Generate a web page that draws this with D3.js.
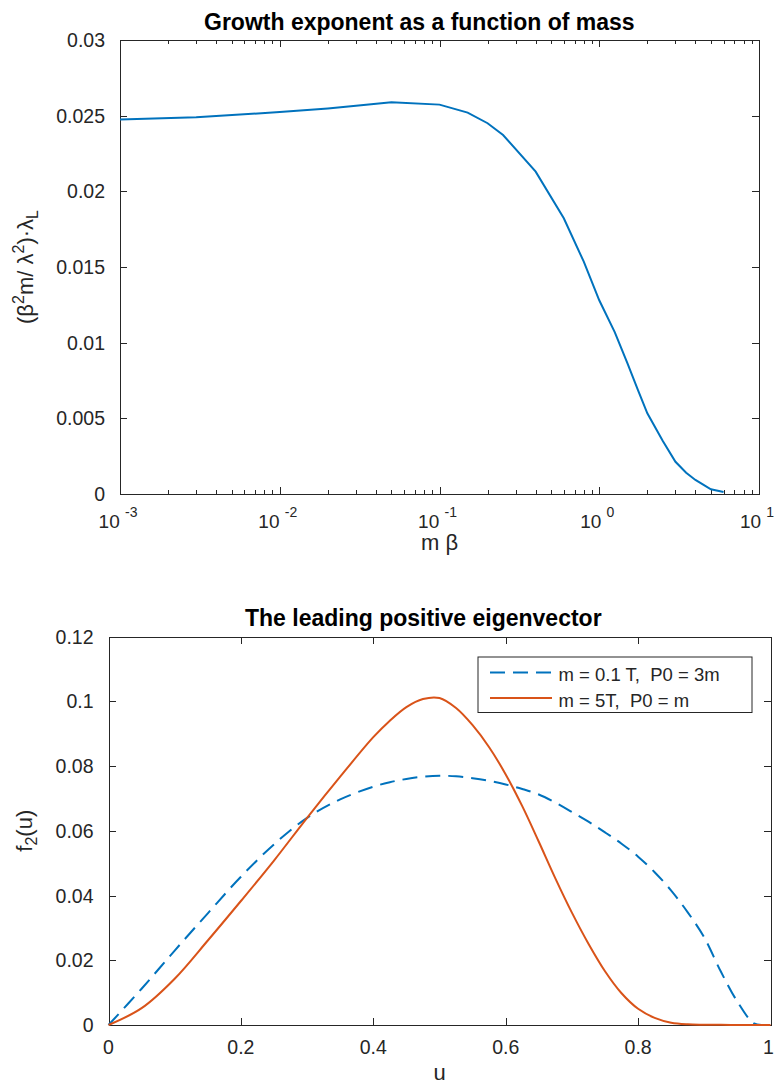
<!DOCTYPE html>
<html>
<head>
<meta charset="utf-8">
<script src="https://cdn.jsdelivr.net/npm/d3@7"></script>
<style>
body { margin: 0; background: #fff; }
text { font-family: "Liberation Sans", Arial, Helvetica, sans-serif; fill: #262626; }
.axis path, .axis line { stroke: #262626; stroke-width: 1; shape-rendering: crispEdges; }
</style>
</head>
<body>
<script>
// growth exponent vs mass (top panel)
var massValues = [0.001, 0.003, 0.01, 0.02, 0.03, 0.05, 0.1, 0.15, 0.2, 0.25, 0.4, 0.6, 0.8,
                  1.0, 1.25, 1.5, 1.75, 2, 2.5, 3, 3.5, 4, 4.5, 5, 6];
var growthValues = [0.02474, 0.02489, 0.02524, 0.02548, 0.02566, 0.02588, 0.02573, 0.0252, 0.0245,
                    0.02372, 0.0213, 0.01822, 0.01535, 0.0128, 0.0107, 0.00864, 0.00685, 0.00533,
                    0.0035, 0.00213, 0.0014, 0.00093, 0.0006, 0.00031, 0.00013];

// eigenvectors (bottom panel)
var uValues = [0, 0.05, 0.1, 0.15, 0.2, 0.25, 0.3, 0.35, 0.4, 0.425, 0.45, 0.475, 0.5, 0.525, 0.55,
               0.575, 0.6, 0.625, 0.65, 0.675, 0.7, 0.725, 0.75, 0.775, 0.8, 0.825, 0.85, 0.875,
               0.9, 0.925, 0.95, 0.975, 0.99, 1];
var eigenLight = [0, 0.0112, 0.023, 0.0345, 0.0458, 0.0558, 0.064, 0.0697, 0.0736, 0.075, 0.076,
                  0.0767, 0.077, 0.0768, 0.0762, 0.0754, 0.0743, 0.0729, 0.0712, 0.0687, 0.0658,
                  0.0628, 0.0595, 0.056, 0.052, 0.0472, 0.0415, 0.0348, 0.027, 0.0165, 0.0072,
                  0.0005, 0, 0];
var eigenHeavy = [0, 0.0052, 0.0143, 0.0261, 0.0383, 0.0508, 0.064, 0.0767, 0.0889, 0.094, 0.0982,
                  0.1007, 0.101, 0.0979, 0.0926, 0.0858, 0.0774, 0.0676, 0.0566, 0.0453, 0.0347,
                  0.0251, 0.0166, 0.0098, 0.005, 0.0022, 0.0007, 0.0002, 0.0001, 0.00005, 0, 0,
                  0, 0];
var legendLabels = ["m = 0.1 T,  P0 = 3m", "m = 5T,  P0 = m"];

// ticks
var massTicks = [1e-3, 1e-2, 1e-1, 1, 10];
var massExponents = ["-3", "-2", "-1", "0", "1"];
var growthTicks = [0, 0.005, 0.01, 0.015, 0.02, 0.025, 0.03];
var uTicks = [0, 0.2, 0.4, 0.6, 0.8, 1];
var eigenTicks = [0, 0.02, 0.04, 0.06, 0.08, 0.1, 0.12];

var blue = "#0072BD", orange = "#D95319";

var svg = d3.select("body").append("svg")
    .attr("width", 774)
    .attr("height", 1084);

//---------- top panel ----------
var top1 = { left: 120, top: 40, width: 639, height: 454 };
var g1 = svg.append("g").attr("transform", "translate(" + top1.left + "," + top1.top + ")");

var x1 = d3.scaleLog().domain([1e-3, 10]).range([0, top1.width]);
var y1 = d3.scaleLinear().domain([0, 0.03]).range([top1.height, 0]);

// minor ticks of the log axis
var minorTicks = [];
[1e-3, 1e-2, 1e-1, 1].forEach(function (d) {
    for (var k = 2; k <= 9; k++) minorTicks.push(d * k);
});

g1.append("g").attr("class", "axis")
    .attr("transform", "translate(0," + top1.height + ")")
    .call(d3.axisBottom(x1).tickValues(minorTicks).tickSize(-4).tickSizeOuter(0).tickFormat(""));
g1.append("g").attr("class", "axis")
    .call(d3.axisTop(x1).tickValues(minorTicks).tickSize(-4).tickSizeOuter(0).tickFormat(""));
g1.append("g").attr("class", "axis")
    .attr("transform", "translate(0," + top1.height + ")")
    .call(d3.axisBottom(x1).tickValues(massTicks).tickSize(-7).tickSizeOuter(0).tickFormat(""));
g1.append("g").attr("class", "axis")
    .call(d3.axisTop(x1).tickValues(massTicks).tickSize(-7).tickSizeOuter(0).tickFormat(""));
g1.append("g").attr("class", "axis")
    .call(d3.axisLeft(y1).tickValues(growthTicks).tickSize(-7).tickSizeOuter(0).tickFormat(""));
g1.append("g").attr("class", "axis")
    .attr("transform", "translate(" + top1.width + ",0)")
    .call(d3.axisRight(y1).tickValues(growthTicks).tickSize(-7).tickSizeOuter(0).tickFormat(""));

// x tick labels 10^k
massTicks.forEach(function (d, i) {
    var t = g1.append("text")
        .attr("x", x1(d) - 2)
        .attr("y", top1.height + 34)
        .attr("text-anchor", "middle")
        .style("font-size", "19px");
    t.append("tspan").text("10 ");
    t.append("tspan").attr("dy", -11).style("font-size", "14px").text(massExponents[i]);
});

// y tick labels
g1.selectAll(".ylab").data(growthTicks).enter().append("text")
    .attr("x", -15)
    .attr("y", function (d) { return y1(d); })
    .attr("dy", "0.36em")
    .attr("text-anchor", "end")
    .style("font-size", "19.5px")
    .text(function (d) { return d3.format("")(d); });

var line1 = d3.line()
    .x(function (d, i) { return x1(massValues[i]); })
    .y(function (d) { return y1(d); });

g1.append("path")
    .datum(growthValues)
    .attr("d", line1)
    .attr("fill", "none")
    .attr("stroke", blue)
    .attr("stroke-width", 2);

svg.append("text")
    .attr("x", 204).attr("y", 29.5)
    .style("font-size", "23px").style("font-weight", "bold").style("fill", "#000")
    .text("Growth exponent as a function of mass");

svg.append("text")
    .attr("x", top1.left + top1.width / 2).attr("y", 550)
    .attr("text-anchor", "middle")
    .style("font-size", "22px")
    .text("m β");

var yl1 = svg.append("text")
    .attr("transform", "translate(33," + (top1.top + top1.height / 2) + ") rotate(-90)")
    .attr("text-anchor", "middle")
    .style("font-size", "22px");
yl1.append("tspan").text("(β");
yl1.append("tspan").attr("dy", -9).style("font-size", "16px").text("2");
yl1.append("tspan").attr("dy", 9).text("m/ λ");
yl1.append("tspan").attr("dy", -9).style("font-size", "16px").text("2");
yl1.append("tspan").attr("dy", 9).text(")·λ");
yl1.append("tspan").attr("dy", 5).style("font-size", "16px").text("L");

//---------- bottom panel ----------
var bot = { left: 108.5, top: 636.5, width: 662, height: 388.5 };
var g2 = svg.append("g").attr("transform", "translate(" + bot.left + "," + bot.top + ")");

var x2 = d3.scaleLinear().domain([0, 1]).range([0, bot.width]);
var y2 = d3.scaleLinear().domain([0, 0.12]).range([bot.height, 0]);

g2.append("g").attr("class", "axis")
    .attr("transform", "translate(0," + bot.height + ")")
    .call(d3.axisBottom(x2).tickValues(uTicks).tickSize(-7).tickSizeOuter(0).tickFormat(""));
g2.append("g").attr("class", "axis")
    .call(d3.axisTop(x2).tickValues(uTicks).tickSize(-7).tickSizeOuter(0).tickFormat(""));
g2.append("g").attr("class", "axis")
    .call(d3.axisLeft(y2).tickValues(eigenTicks).tickSize(-7).tickSizeOuter(0).tickFormat(""));
g2.append("g").attr("class", "axis")
    .attr("transform", "translate(" + bot.width + ",0)")
    .call(d3.axisRight(y2).tickValues(eigenTicks).tickSize(-7).tickSizeOuter(0).tickFormat(""));

g2.selectAll(".xlab").data(uTicks).enter().append("text")
    .attr("x", function (d) { return Math.min(x2(d), bot.width - 2); })
    .attr("y", bot.height + 28.5)
    .attr("text-anchor", "middle")
    .style("font-size", "19.5px")
    .text(function (d) { return d3.format("")(d); });

g2.selectAll(".ylab").data(eigenTicks).enter().append("text")
    .attr("x", -15)
    .attr("y", function (d) { return y2(d); })
    .attr("dy", "0.36em")
    .attr("text-anchor", "end")
    .style("font-size", "19.5px")
    .text(function (d) { return d3.format("")(d); });

var line2 = d3.line()
    .x(function (d, i) { return x2(uValues[i]); })
    .y(function (d) { return y2(d); })
    .curve(d3.curveCatmullRom.alpha(0.5));

g2.append("path")
    .datum(eigenLight)
    .attr("d", line2)
    .attr("fill", "none")
    .attr("stroke", blue)
    .attr("stroke-width", 2)
    .attr("stroke-dasharray", "15,8");

g2.append("path")
    .datum(eigenHeavy)
    .attr("d", line2)
    .attr("fill", "none")
    .attr("stroke", orange)
    .attr("stroke-width", 2);

svg.append("text")
    .attr("x", 245).attr("y", 626)
    .style("font-size", "23px").style("font-weight", "bold").style("fill", "#000")
    .text("The leading positive eigenvector");

svg.append("text")
    .attr("x", bot.left + bot.width / 2).attr("y", 1080)
    .attr("text-anchor", "middle")
    .style("font-size", "22px")
    .text("u");

var yl2 = svg.append("text")
    .attr("transform", "translate(32," + (bot.top + bot.height / 2) + ") rotate(-90)")
    .attr("text-anchor", "middle")
    .style("font-size", "22px");
yl2.append("tspan").text("f");
yl2.append("tspan").attr("dy", 5).style("font-size", "16px").text("2");
yl2.append("tspan").attr("dy", -5).text("(u)");

// legend
var legend = svg.append("g").attr("transform", "translate(478,657)");
legend.append("rect")
    .attr("width", 274).attr("height", 55.5)
    .attr("fill", "#fff")
    .attr("stroke", "#262626")
    .attr("stroke-width", 1);
var legendStyles = [{ color: blue, dash: "15,8" }, { color: orange, dash: null }];
legendLabels.forEach(function (label, i) {
    var yy = 15.5 + i * 25.5;
    legend.append("line")
        .attr("x1", 12).attr("x2", 74)
        .attr("y1", yy).attr("y2", yy)
        .attr("stroke", legendStyles[i].color)
        .attr("stroke-width", 2)
        .attr("stroke-dasharray", legendStyles[i].dash);
    legend.append("text")
        .attr("x", 80.5).attr("y", yy + 8.5)
        .attr("xml:space", "preserve")
        .style("white-space", "pre")
        .style("font-size", "18.5px")
        .text(label);
});
</script>
</body>
</html>
